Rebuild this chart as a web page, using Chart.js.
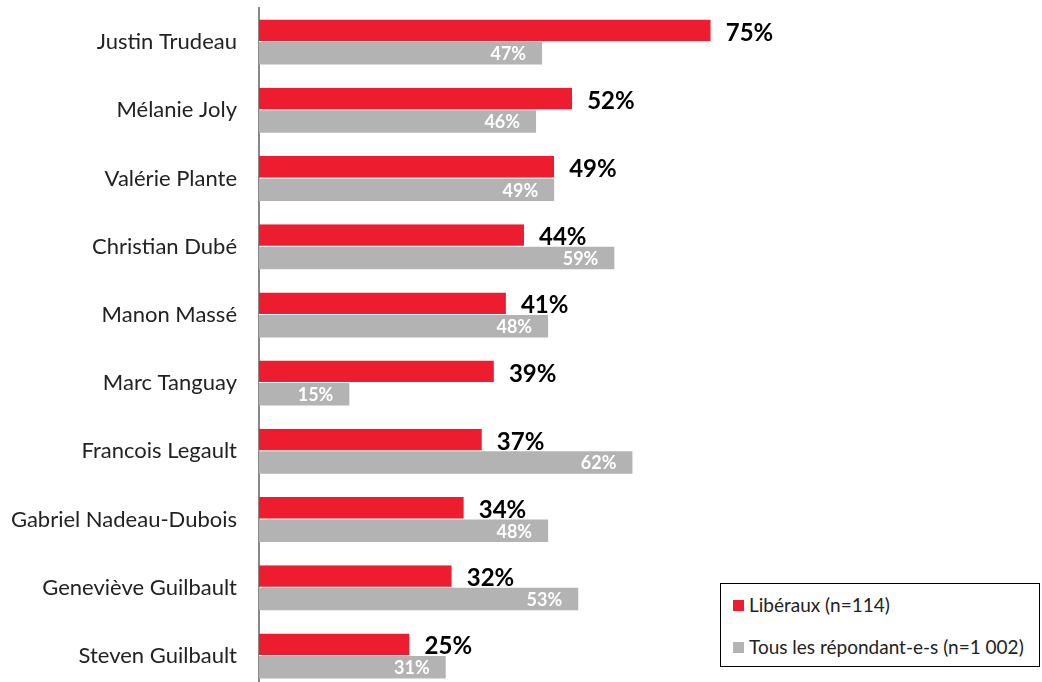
<!DOCTYPE html>
<html><head><meta charset="utf-8">
<script src="https://cdn.jsdelivr.net/npm/chart.js@4"></script>
<style>
html,body{margin:0;padding:0;background:#fff;overflow:hidden;}
#wrap{position:relative;width:1042px;height:682px;overflow:hidden;}
#legend{position:absolute;left:720px;top:583px;width:320px;height:84px;border:1.5px solid #000;box-sizing:border-box;font-family:Lato,"Open Sans",sans-serif;font-size:19px;color:#222;background:#fff;}
#legend div{position:absolute;left:12px;display:flex;align-items:center;line-height:22px;}
#legend span.sw{display:inline-block;width:11px;height:11px;margin-right:5px;}
</style></head>
<body><div id="wrap"><canvas id="c" width="1042" height="690"></canvas>
<div id="legend"></div></div>
<script>
const categories = ["Justin Trudeau","Mélanie Joly","Valérie Plante","Christian Dubé","Manon Massé","Marc Tanguay","Francois Legault","Gabriel Nadeau-Dubois","Geneviève Guilbault","Steven Guilbault"];
const liberaux = [75,52,49,44,41,39,37,34,32,25];
const tous = [47,46,49,59,48,15,62,48,53,31];
const seriesNames = ["Libéraux (n=114)","Tous les répondant-e-s (n=1 002)"];
const colors = ["#ED1C2E","#B3B3B3"];

const leg = document.getElementById('legend');
seriesNames.forEach((n,i)=>{
  const d=document.createElement('div');
  d.style.top=(i===0?10:52)+'px';
  d.innerHTML='<span class="sw" style="background:'+colors[i]+'"></span>'+n;
  leg.appendChild(d);
});

const labelPlugin = {
  id:'labels',
  afterDatasetsDraw(chart){
    const ctx=chart.ctx;
    ctx.save();
    chart.data.datasets.forEach((ds,di)=>{
      const meta=chart.getDatasetMeta(di);
      meta.data.forEach((bar,i)=>{
        const v=ds.data[i]+'%';
        ctx.textBaseline='middle';
        if(di===0){
          ctx.font='bold 24px Lato, "Open Sans", sans-serif';
          ctx.fillStyle='#000';
          ctx.textAlign='left';
          ctx.fillText(v,bar.x+15,bar.y+2);
        }else{
          ctx.font='bold 18px Lato, "Open Sans", sans-serif';
          ctx.fillStyle='#fff';
          ctx.textAlign='right';
          ctx.fillText(v,bar.x-16,bar.y+1);
        }
      });
    });
    ctx.restore();
  }
};

new Chart(document.getElementById('c'),{
  type:'bar',
  data:{labels:categories,datasets:[
    {label:seriesNames[0],data:liberaux,backgroundColor:colors[0],borderColor:'#fff',borderWidth:{top:0,left:0,right:0,bottom:1},borderSkipped:false,categoryPercentage:0.66,barPercentage:1},
    {label:seriesNames[1],data:tous,backgroundColor:colors[1],categoryPercentage:0.66,barPercentage:1}
  ]},
  options:{
    indexAxis:'y',responsive:false,animation:false,
    layout:{padding:{top:8,bottom:0,left:0,right:0}},
    plugins:{legend:{display:false},tooltip:{enabled:false}},
    scales:{
      x:{display:false,min:0,max:130},
      y:{grid:{display:false,drawTicks:false},border:{display:true,color:'#888',width:2},
        ticks:{color:'#222',padding:22,font:{family:'Lato, "Open Sans", sans-serif',size:22}},
        afterFit(s){s.width=259;s.paddingTop=0;s.paddingBottom=0;}}
    }
  },
  plugins:[labelPlugin]
});
</script></body></html>
